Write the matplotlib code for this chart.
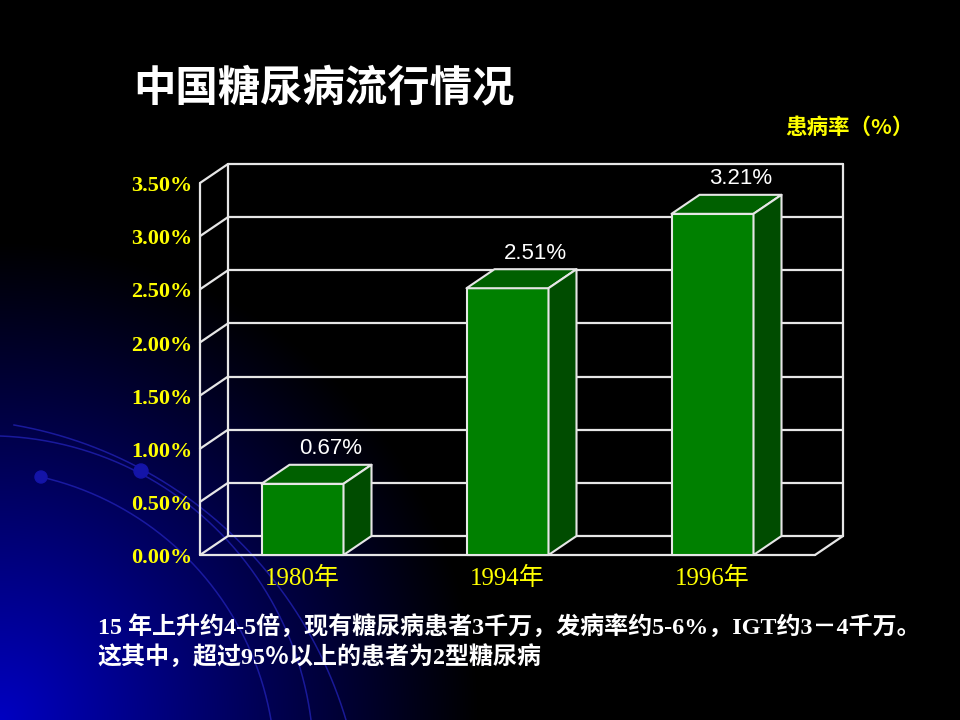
import numpy as np
import matplotlib.pyplot as plt
from matplotlib.patches import Polygon, Circle

# data
years = ['1980年', '1994年', '1996年']
rates = [0.67, 2.51, 3.21]          # 患病率 (%)
rate_labels = ['0.67%', '2.51%', '3.21%']
yticks = [0.0, 0.5, 1.0, 1.5, 2.0, 2.5, 3.0, 3.5]
ytick_labels = ['0.00%', '0.50%', '1.00%', '1.50%', '2.00%', '2.50%', '3.00%', '3.50%']

title = '中国糖尿病流行情况'
unit_label = '患病率（%）'
note1 = '15 年上升约4-5倍，现有糖尿病患者3千万，发病率约5-6%，IGT约3－4千万。'
note2 = '这其中，超过95％以上的患者为2型糖尿病'

CJK = ['Noto Sans CJK SC', 'DejaVu Sans']
SERIF_CJK = ['Liberation Serif', 'Noto Sans CJK SC', 'DejaVu Sans']
YELLOW = '#ffff00'
GRID = '#e6e6e6'

fig = plt.figure(figsize=(9.6, 7.2), dpi=100, facecolor='black')

# background: blue glow in the lower-left corner + decorative arcs
bg = fig.add_axes([0, 0, 1, 1])
bg.set_xlim(0, 960)
bg.set_ylim(720, 0)
bg.axis('off')
yy, xx = np.mgrid[0:720, 0:960]
r = np.hypot(xx, 720 - yy)
glow = 0.76 * np.clip(1 - r / 480.0, 0, 1) ** 1.05
img = np.zeros((720, 960, 3))
img[..., 2] = glow
bg.imshow(img, extent=[0, 960, 720, 0], aspect='auto', zorder=0)


def circle_through(p1, p2, p3):
    (x1, y1), (x2, y2), (x3, y3) = p1, p2, p3
    a = np.array([[x2 - x1, y2 - y1], [x3 - x1, y3 - y1]]) * 2
    b = np.array([x2**2 - x1**2 + y2**2 - y1**2, x3**2 - x1**2 + y3**2 - y1**2])
    cx, cy = np.linalg.solve(a, b)
    return cx, cy, np.hypot(x1 - cx, y1 - cy)


arcs = [((14, 425), (200, 507), (346, 720)),
        ((0, 436), (200, 514), (311, 720)),
        ((41, 477), (179, 550), (271, 720))]
for p1, p2, p3 in arcs:
    cx, cy, rad = circle_through(p1, p2, p3)
    a1 = np.arctan2(p1[1] - cy, p1[0] - cx)
    a3 = np.arctan2(p3[1] - cy, p3[0] - cx)
    t = np.linspace(a1, a3, 200)
    bg.plot(cx + rad * np.cos(t), cy + rad * np.sin(t), color='#2222b8', lw=1.1, alpha=0.75, zorder=1)
bg.add_patch(Circle((141, 471), 7, color='#1414a8', zorder=2))
bg.add_patch(Circle((41, 477), 6, color='#1414a8', zorder=2))

# 3D-looking bar chart
ax = fig.add_axes([200 / 960, 165 / 720, 615 / 960, 372 / 720])
ax.set_xlim(-0.5, 2.5)
ax.set_ylim(0, 3.5)
ax.axis('off')

DX = 28 / 205.0          # depth offset in category units
DY = 19 / (372 / 3.5)    # depth offset in value units
x0, x1 = -0.5, 2.5
kw = dict(color=GRID, lw=1.6, clip_on=False, zorder=1, solid_capstyle='round')

for v in yticks:
    ax.plot([x0 + DX, x1 + DX], [v + DY, v + DY], **kw)     # back wall grid
    ax.plot([x0, x0 + DX], [v, v + DY], **kw)               # side wall grid
ax.plot([x0 + DX, x0 + DX], [DY, yticks[-1] + DY], **kw)
ax.plot([x1 + DX, x1 + DX], [DY, yticks[-1] + DY], **kw)
ax.plot([x0, x0], [0, yticks[-1]], **kw)
ax.plot([x0, x1], [0, 0], **kw)
ax.plot([x1, x1 + DX], [0, DY], **kw)

bw = 0.4
for i, v in enumerate(rates):
    l, rr = i - bw / 2, i + bw / 2
    faces = [
        ([(l, 0), (rr, 0), (rr, v), (l, v)], '#008000'),
        ([(l, v), (rr, v), (rr + DX, v + DY), (l + DX, v + DY)], '#006000'),
        ([(rr, 0), (rr + DX, DY), (rr + DX, v + DY), (rr, v)], '#004c00'),
    ]
    for pts, fc in faces:
        ax.add_patch(Polygon(pts, closed=True, facecolor=fc, edgecolor=GRID,
                             lw=1.5, joinstyle='round', zorder=3, clip_on=False))
    ax.text(i + DX, v + DY + 0.15, rate_labels[i], color='white', fontsize=16,
            family='Liberation Sans', ha='center', va='center', zorder=4)
    ax.text(i, -0.22, years[i], color=YELLOW, fontsize=18, family=SERIF_CJK,
            ha='center', va='center')

for v, lbl in zip(yticks, ytick_labels):
    ax.text(x0 - 0.035, v - 0.03, lbl, color=YELLOW, fontsize=16, weight='bold',
            family=SERIF_CJK, ha='right', va='center')

# texts
fig.text(133 / 960, 1 - 88 / 720, title, color='white', fontsize=30.5, weight='bold',
         family=CJK, ha='left', va='center')
fig.text(914 / 960, 1 - 127 / 720, unit_label, color=YELLOW, fontsize=15.5, weight='bold',
         family=CJK, ha='right', va='center')
fig.text(98 / 960, 1 - 628 / 720, note1, color='white', fontsize=17.3, weight='bold',
         family=SERIF_CJK, ha='left', va='center')
fig.text(98 / 960, 1 - 657 / 720, note2, color='white', fontsize=17.3, weight='bold',
         family=SERIF_CJK, ha='left', va='center')

fig.savefig('out.png', dpi=100, facecolor='black')
